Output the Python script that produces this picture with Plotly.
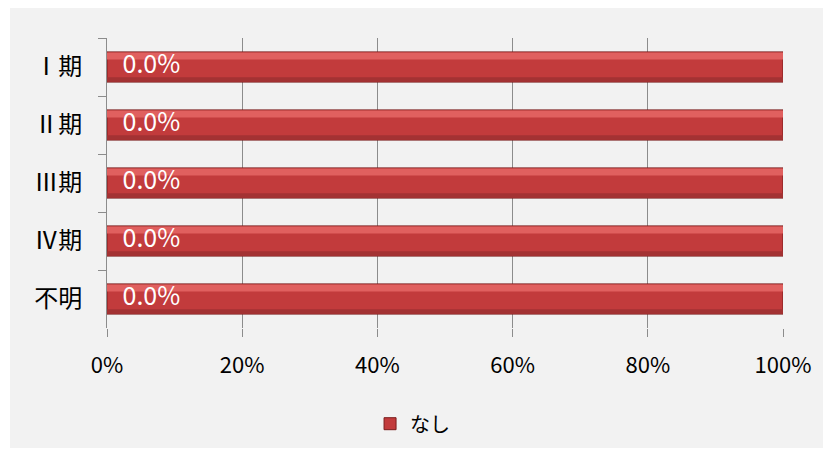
import plotly.graph_objects as go

categories = ["Ⅰ期", "Ⅱ期", "Ⅲ期", "Ⅳ期", "不明"]
values = [100, 100, 100, 100, 100]
labels = ["0.0%", "0.0%", "0.0%", "0.0%", "0.0%"]
series_name = "なし"
x_ticks = [0, 20, 40, 60, 80, 100]
x_tick_text = ["0%", "20%", "40%", "60%", "80%", "100%"]

font = "Noto Sans CJK JP"
red = "#c23b3c"

fig = go.Figure()

# main bars
fig.add_trace(go.Bar(
    y=categories, x=values, orientation="h", name=series_name,
    width=0.52,
    marker=dict(color=red, line=dict(color="#7a1c1c", width=1)),
    showlegend=True,
))
# top highlight strip
fig.add_trace(go.Bar(
    y=categories, x=values, orientation="h",
    width=0.12, offset=-0.25,
    marker=dict(color="#e0605f", line=dict(width=0)),
    showlegend=False, hoverinfo="skip",
))
# bottom shade strip
fig.add_trace(go.Bar(
    y=categories, x=values, orientation="h",
    width=0.08, offset=0.175,
    marker=dict(color="#a33233", line=dict(width=0)),
    showlegend=False, hoverinfo="skip",
))
# labels
fig.add_trace(go.Scatter(
    y=categories, x=[2.3] * len(categories), mode="text",
    text=labels, textposition="middle right",
    textfont=dict(family=font, size=25, color="white"),
    showlegend=False, hoverinfo="skip",
))

fig.update_layout(
    width=825, height=448,
    margin=dict(l=99, r=50, t=30, b=128),
    paper_bgcolor="white",
    plot_bgcolor="#f2f2f2",
    barmode="overlay",
    font=dict(family=font, size=22, color="black"),
    legend=dict(
        orientation="h", x=0.452, y=-0.33, xanchor="center", yanchor="middle",
        bgcolor="rgba(0,0,0,0)", font=dict(size=20),
        itemwidth=30,
    ),
    shapes=[dict(
        type="rect", xref="paper", yref="paper",
        x0=-0.1435, x1=1.0592, y0=-0.4138, y1=1.1034,
        fillcolor="#f2f2f2", line=dict(width=0), layer="below",
    )],
)

fig.update_xaxes(
    range=[0, 100], tickvals=x_ticks, ticktext=x_tick_text,
    showgrid=True, gridcolor="#8c8c8c", gridwidth=1,
    zeroline=False, showline=False,
    ticks="outside", ticklen=8, tickcolor="#8c8c8c",
    ticklabelstandoff=10,
    tickfont=dict(size=22),
)
fig.update_yaxes(
    categoryorder="array", categoryarray=categories, autorange="reversed",
    showgrid=False, zeroline=False,
    showline=True, linecolor="#8c8c8c", linewidth=1,
    ticks="outside", ticklen=8, tickcolor="#8c8c8c", tickson="boundaries",
    ticklabelstandoff=19,
    tickfont=dict(size=24),
)

fig.write_html("out.html")
